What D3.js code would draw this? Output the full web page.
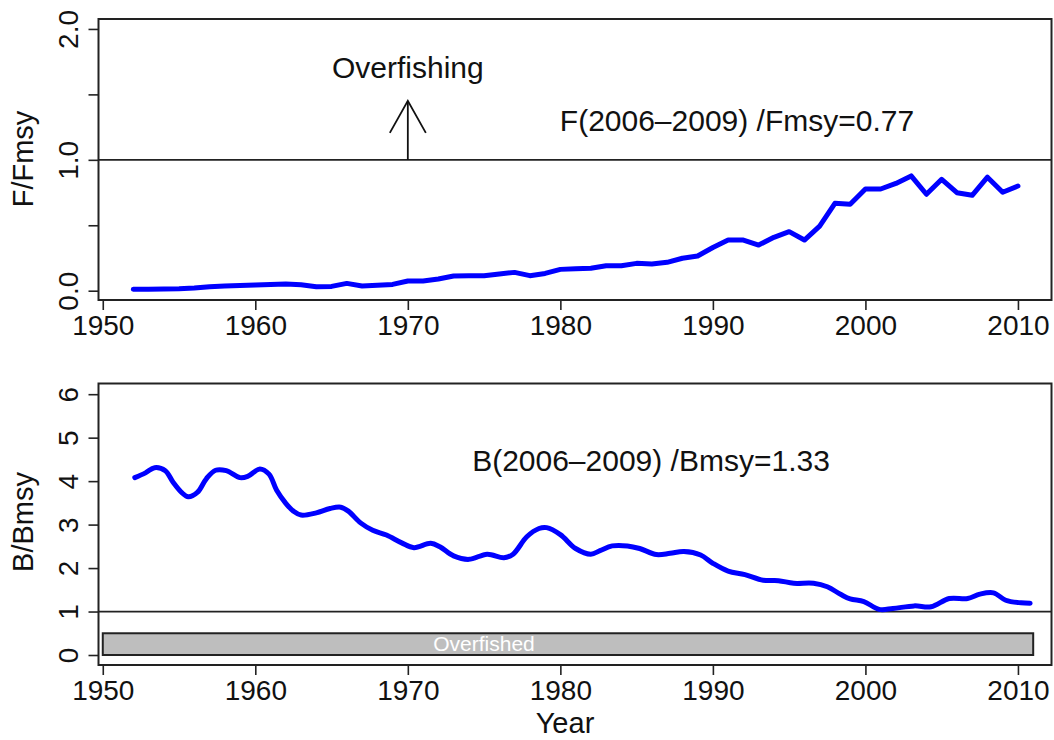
<!DOCTYPE html>
<html>
<head>
<meta charset="utf-8">
<script src="https://cdn.jsdelivr.net/npm/d3@7"></script>
<style>
  html, body { margin: 0; padding: 0; background: #fff; }
  svg { display: block; font-family: "Liberation Sans", Arial, Helvetica, sans-serif; }
</style>
</head>
<body>
<svg id="chart" width="1054" height="740"></svg>
<script>
// ---- data ----
const fYears = [1952,1953,1954,1955,1956,1957,1958,1959,1960,1961,1962,1963,1964,1965,1966,1967,1968,1969,
  1970,1971,1972,1973,1974,1975,1976,1977,1978,1979,1980,1981,1982,1983,1984,1985,1986,1987,1988,1989,
  1990,1991,1992,1993,1994,1995,1996,1997,1998,1999,2000,2001,2002,2003,2004,2005,2006,2007,2008,2009,2010];
const fRatio = [0.011,0.012,0.013,0.015,0.020,0.030,0.036,0.040,0.044,0.048,0.051,0.045,0.031,0.033,0.056,0.036,0.042,0.048,
  0.074,0.074,0.089,0.112,0.114,0.115,0.128,0.140,0.115,0.132,0.163,0.168,0.171,0.190,0.190,0.209,0.204,0.217,0.248,0.265,
  0.330,0.387,0.387,0.349,0.408,0.451,0.387,0.494,0.668,0.660,0.777,0.777,0.820,0.877,0.737,0.851,0.749,0.729,0.867,0.752,0.800];

const bYears = [1952.1,1952.8,1953.4,1954.1,1954.6,1955.2,1955.6,1956.2,1956.8,1957.4,1958.1,1959.0,1959.5,1960.3,1960.9,
  1961.4,1962.0,1962.5,1963.0,1964.0,1964.9,1965.6,1966.1,1966.9,1967.7,1968.6,1969.6,1970.4,1971.5,1972.1,1973.0,
  1974.0,1975.2,1976.3,1976.9,1977.8,1978.6,1979.1,1980.0,1981.0,1982.0,1982.6,1983.4,1984.4,1985.2,1986.3,1987.2,
  1988.1,1989.2,1990.0,1991.0,1992.1,1993.3,1994.3,1995.3,1996.6,1997.5,1998.4,1999.0,1999.9,2000.9,2001.8,2003.2,
  2004.3,2005.5,2006.7,2007.5,2008.4,2009.2,2010.2,2010.8];
const bRatio = [4.08,4.19,4.31,4.24,3.98,3.73,3.64,3.74,4.06,4.25,4.24,4.08,4.11,4.28,4.16,
  3.79,3.49,3.31,3.22,3.27,3.37,3.40,3.31,3.04,2.87,2.76,2.58,2.47,2.57,2.49,2.28,
  2.20,2.32,2.24,2.32,2.72,2.91,2.93,2.77,2.45,2.32,2.40,2.51,2.51,2.45,2.31,2.34,
  2.38,2.30,2.11,1.93,1.85,1.72,1.71,1.65,1.65,1.57,1.39,1.29,1.23,1.05,1.07,1.13,
  1.11,1.30,1.30,1.40,1.43,1.26,1.20,1.19];

const xTicks = [1950,1960,1970,1980,1990,2000,2010];
const fTicks = [0,0.5,1,1.5,2];
const fTickLabels = ["0.0","","1.0","","2.0"];
const bTicks = [0,1,2,3,4,5,6];
const fLabel = "F(2006\u20132009) /Fmsy=0.77";
const bLabel = "B(2006\u20132009) /Bmsy=1.33";
const overfishedRange = [1950, 2011];
const overfishedHeight = [0, 0.5];
const arrowRange = [1.0, 1.45];
const arrowYear = 1970;

// ---- layout ----
const svg = d3.select("#chart");
const L = 98.5, R = 1051.5;
const x = d3.scaleLinear().domain([1949.72, 2012.2]).range([L, R]);

const topP = {t: 19, b: 300};
const botP = {t: 383.5, b: 665};
const yF = d3.scaleLinear().domain([-0.071, 2.076]).range([topP.b, topP.t]);
const yB = d3.scaleLinear().domain([-0.23, 6.246]).range([botP.b, botP.t]);

const axisColor = "#222";
const tickFont = 28;

function panel(y, p, yTicks, yLabels, yTitle, titleY) {
  const g = svg.append("g");
  const xa = g.append("g").attr("transform", `translate(0,${p.b})`)
    .call(d3.axisBottom(x).tickValues(xTicks).tickSize(10).tickPadding(4).tickFormat(d3.format("d")));
  xa.select(".domain").remove();
  xa.selectAll("line").attr("stroke", axisColor).attr("stroke-width", 1.6);
  xa.selectAll("text").attr("font-size", tickFont).attr("fill", "#111")
    .attr("font-family", "Liberation Sans, Arial, sans-serif").attr("dy", null).attr("y", 35);
  const ya = g.append("g").attr("transform", `translate(${L},0)`)
    .call(d3.axisLeft(y).tickValues(yTicks).tickSize(10).tickFormat((d,i) => yLabels[i]));
  ya.select(".domain").remove();
  ya.selectAll("line").attr("stroke", axisColor).attr("stroke-width", 1.6);
  ya.selectAll("text").attr("font-size", tickFont).attr("fill", "#111")
    .attr("font-family", "Liberation Sans, Arial, sans-serif")
    .attr("x", null).attr("dy", null)
    .attr("text-anchor", "middle")
    .attr("transform", "translate(-21,0) rotate(-90)");
  g.append("text")
    .attr("transform", `translate(33,${titleY}) rotate(-90)`)
    .attr("text-anchor", "middle").attr("font-size", 29).attr("fill", "#111")
    .text(yTitle);
  g.append("line").attr("x1", L).attr("x2", R).attr("y1", y(1)).attr("y2", y(1))
    .attr("stroke", axisColor).attr("stroke-width", 1.8);
  g.append("rect").attr("x", L).attr("y", p.t).attr("width", R - L).attr("height", p.b - p.t)
    .attr("fill", "none").attr("stroke", axisColor).attr("stroke-width", 2);
  return g;
}

// ---- top panel ----
const gT = panel(yF, topP, fTicks, fTickLabels, "F/Fmsy", 159);

gT.append("path")
  .datum(fYears.map((yr, i) => [yr, fRatio[i]]))
  .attr("fill", "none").attr("stroke", "#0000ff").attr("stroke-width", 5)
  .attr("stroke-linejoin", "round").attr("stroke-linecap", "round")
  .attr("d", d3.line().x(d => x(d[0])).y(d => yF(d[1])));

const ax = x(arrowYear), ay0 = yF(arrowRange[0]), ay1 = yF(arrowRange[1]);
gT.append("line").attr("x1", ax).attr("x2", ax).attr("y1", ay0).attr("y2", ay1)
  .attr("stroke", "#111").attr("stroke-width", 1.8);
gT.append("path")
  .attr("d", `M${ax - 18},${ay1 + 32}L${ax},${ay1}L${ax + 18},${ay1 + 32}`)
  .attr("fill", "none").attr("stroke", "#111").attr("stroke-width", 1.8);
gT.append("text").attr("x", ax).attr("y", 78).attr("text-anchor", "middle")
  .attr("font-size", 30).attr("fill", "#111").text("Overfishing");
gT.append("text").attr("x", 737).attr("y", 131).attr("text-anchor", "middle")
  .attr("font-size", 30).attr("fill", "#111").text(fLabel);

// ---- bottom panel ----
const gB = panel(yB, botP, bTicks, bTicks.map(String), "B/Bmsy", 522);

gB.append("rect")
  .attr("x", x(overfishedRange[0])).attr("y", yB(overfishedHeight[1]))
  .attr("width", x(overfishedRange[1]) - x(overfishedRange[0]))
  .attr("height", yB(overfishedHeight[0]) - yB(overfishedHeight[1]))
  .attr("fill", "#bebebe").attr("stroke", axisColor).attr("stroke-width", 2);
gB.append("text").attr("x", 484).attr("y", 651).attr("text-anchor", "middle")
  .attr("font-size", 21).attr("fill", "#fff").text("Overfished");

gB.append("path")
  .datum(bYears.map((yr, i) => [yr, bRatio[i]]))
  .attr("fill", "none").attr("stroke", "#0000ff").attr("stroke-width", 5)
  .attr("stroke-linejoin", "round").attr("stroke-linecap", "round")
  .attr("d", d3.line().curve(d3.curveCatmullRom).x(d => x(d[0])).y(d => yB(d[1])));

gB.append("text").attr("x", 651).attr("y", 471).attr("text-anchor", "middle")
  .attr("font-size", 30).attr("fill", "#111").text(bLabel);

svg.append("text").attr("x", 565).attr("y", 733).attr("text-anchor", "middle")
  .attr("font-size", 29).attr("fill", "#111").text("Year");
</script>
</body>
</html>
